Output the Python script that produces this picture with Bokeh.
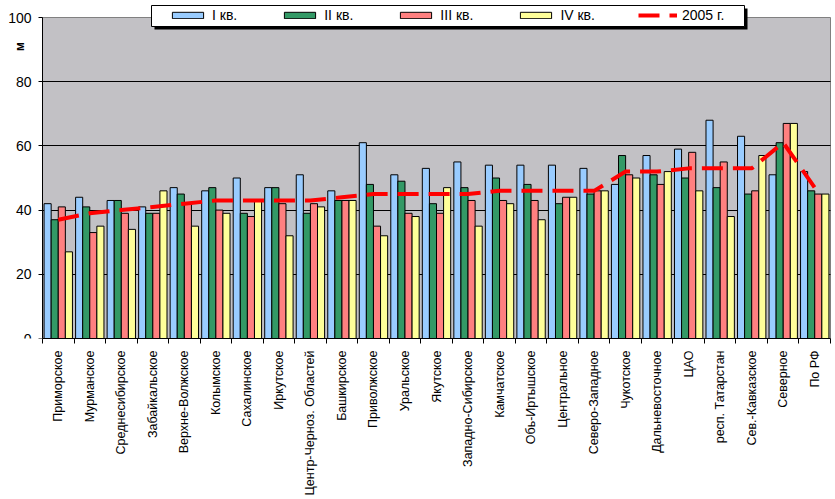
import math
from bokeh.plotting import figure
from bokeh.models import (ColumnDataSource, Range1d, FixedTicker, Legend, LegendItem,
                          BoxAnnotation, Label, LinearAxis)
from bokeh.transform import dodge
from bokeh.embed import file_html
from bokeh.resources import INLINE

regions = ["Приморское", "Мурманское", "Среднесибирское", "Забайкальское", "Верхне-Волжское",
           "Колымское", "Сахалинское", "Иркутское", "Центр-Черноз. Областей", "Башкирское",
           "Приволжское", "Уральское", "Якутское", "Западно-Сибирское", "Камчатское",
           "Обь-Иртышское", "Центральное", "Северо-Западное", "Чукотское", "Дальневосточное",
           "ЦАО", "респ. Татарстан", "Сев.-Кавказское", "Северное", "По РФ"]
q1 = [42, 44, 43, 41, 47, 46, 50, 47, 51, 46, 61, 51, 53, 55, 54, 54, 54, 53, 48, 57, 59, 68, 63, 51, 52]
q2 = [37, 41, 43, 39, 45, 47, 39, 47, 39, 43, 48, 49, 42, 47, 50, 48, 42, 45, 57, 51, 50, 47, 45, 61, 46]
q3 = [41, 33, 39, 39, 42, 40, 38, 42, 42, 43, 35, 39, 39, 43, 43, 43, 44, 46, 51, 48, 58, 55, 46, 67, 45]
q4 = [27, 35, 34, 46, 35, 39, 43, 32, 41, 43, 32, 38, 47, 35, 42, 37, 44, 46, 50, 52, 46, 38, 57, 67, 45]
y2005 = [37, 39, 40, 41, 42, 43, 43, 43, 43, 44, 45, 45, 45, 45, 46, 46, 46, 46, 52, 52, 53, 53, 53, 61, 47]
series_names = ["I кв.", "II кв.", "III кв.", "IV кв."]
line_name = "2005 г."
y_ticks = [0, 20, 40, 60, 80, 100]
y_max = 100

colors = ["#99CCFF", "#339966", "#FF8080", "#FFFF99"]
FONT = "Liberation Sans"

n = len(regions)
src = ColumnDataSource(dict(idx=list(range(n)), q1=q1, q2=q2, q3=q3, q4=q4, y2005=y2005))

# layout constants (pixels)
W, H = 835, 499
PLOT_LEFT, PLOT_BOTTOM = 42, 338
CW = 31.52          # px per category
PU = 3.21           # px per y unit
x_start = -0.5 - PLOT_LEFT / CW
x_end = x_start + W / CW
y_end = PLOT_BOTTOM / PU


def dx(px):
    return x_start + px / CW


def dy(py):
    return (PLOT_BOTTOM - py) / PU


p = figure(width=W, height=H, output_backend="svg", toolbar_location=None,
           x_range=Range1d(x_start, x_end), y_range=Range1d(0, y_end),
           y_axis_location=None,
           min_border_left=0, min_border_right=0, min_border_top=0, min_border_bottom=H - PLOT_BOTTOM)
p.background_fill_color = "white"
p.border_fill_color = "white"
p.outline_line_color = None

# plot area
p.add_layout(BoxAnnotation(left=-0.5, right=n - 0.5, bottom=0, top=y_max,
                           fill_color="#C2C1C5", fill_alpha=1, line_color="#808080",
                           line_width=1, line_alpha=1, level="image"))

bw = 0.225
offsets = [-1.5 * bw, -0.5 * bw, 0.5 * bw, 1.5 * bw]
bar_renderers = []
for col, off, c in zip(["q1", "q2", "q3", "q4"], offsets, colors):
    r = p.vbar(x=dodge("idx", off), top=col, width=bw, bottom=0, source=src,
               fill_color=c, line_color="black", line_width=1)
    bar_renderers.append(r)

line_r = p.line(x="idx", y="y2005", source=src, line_color="#FF0000", line_width=4,
                line_dash="21 10")

# x axis
xa = p.xaxis[0]
xa.bounds = (-0.5, n - 0.5)
xa.ticker = FixedTicker(ticks=list(range(n)), minor_ticks=[i - 0.5 for i in range(n + 1)])
xa.major_label_overrides = {i: name for i, name in enumerate(regions)}
xa.major_label_orientation = math.pi / 2
xa.major_tick_line_color = None
xa.major_tick_out = 0
xa.major_tick_in = 0
xa.minor_tick_line_color = "black"
xa.minor_tick_out = 5
xa.minor_tick_in = 0
xa.major_label_standoff = 7
xa.major_label_text_font = FONT
xa.major_label_text_font_size = "12.5px"
xa.major_label_text_color = "black"
xa.axis_line_color = "black"

# y axis, fixed at the plot area's left edge
ya = LinearAxis(fixed_location=-0.5, bounds=(0, y_max),
                ticker=FixedTicker(ticks=y_ticks, minor_ticks=[]))
ya.major_tick_out = 4
ya.major_tick_in = 0
ya.major_tick_line_color = "black"
ya.minor_tick_line_color = None
ya.major_label_standoff = 7
ya.major_label_text_font = FONT
ya.major_label_text_font_size = "14px"
ya.major_label_text_color = "black"
ya.axis_line_color = "black"
p.add_layout(ya, "left")

p.xgrid.grid_line_color = None
p.ygrid.ticker = FixedTicker(ticks=[20, 40, 60, 80])
p.ygrid.cross_bounds = (-0.5, n - 0.5)
p.ygrid.grid_line_color = "black"
p.ygrid.grid_line_width = 1

# unit label
p.add_layout(Label(x=dx(19.5), y=dy(46), text="м", angle=math.pi / 2, text_align="center",
                   text_baseline="middle", text_font=FONT, text_font_size="12px",
                   text_font_style="bold", text_color="black"))

# legend box with shadow
p.add_layout(BoxAnnotation(left=dx(154), right=dx(747), top=dy(8), bottom=dy(29),
                           fill_color="black", fill_alpha=1, line_color=None))
p.add_layout(BoxAnnotation(left=dx(151), right=dx(744), top=dy(5), bottom=dy(26),
                           fill_color="white", fill_alpha=1, line_color="black", line_width=1,
                           line_alpha=1))

items = [LegendItem(label=nm, renderers=[r]) for nm, r in zip(series_names, bar_renderers)]
items.append(LegendItem(label=line_name, renderers=[line_r]))
legend = Legend(items=items, orientation="horizontal", location=(168, 315),
                border_line_color=None, background_fill_alpha=0, padding=5,
                glyph_width=39, glyph_height=8, label_standoff=5, spacing=43,
                label_height=14, label_text_font=FONT, label_text_font_size="14px",
                label_text_color="black", margin=0)
p.add_layout(legend, "center")

open("out.html", "w").write(file_html(p, INLINE))
